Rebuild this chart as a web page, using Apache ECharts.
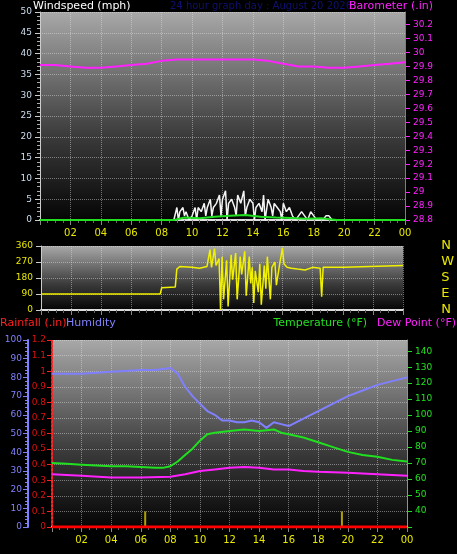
<!DOCTYPE html>
<html><head><meta charset="utf-8">
<script src="https://cdn.jsdelivr.net/npm/echarts@6/dist/echarts.min.js"></script>
<style>html,body{margin:0;background:#000}#c{width:457px;height:554px}</style>
</head><body><div id="c"></div>
<script>
const titleText = "24 hour graph day : August 20 2026";
const xTickHours = [0,2,4,6,8,10,12,14,16,18,20,22,24];
const baroHours = [0,1,2,3,4,5,6,7,8,9,10,11,12,13,14,15,16,17,18,19,20,21,22,23,24];
const baroValues = [29.91,29.91,29.9,29.89,29.89,29.9,29.91,29.92,29.94,29.95,29.95,29.95,29.95,29.95,29.95,29.94,29.92,29.9,29.9,29.89,29.89,29.9,29.91,29.92,29.93];
const gustHours = [8.8,9.0,9.1,9.2,9.4,9.5,9.6,9.8,10.0,10.2,10.3,10.4,10.6,10.8,10.9,11.0,11.2,11.3,11.4,11.6,11.8,11.9,12.0,12.2,12.3,12.4,12.6,12.8,12.9,13.0,13.2,13.4,13.5,13.6,13.8,14.0,14.1,14.2,14.4,14.6,14.7,14.8,15.0,15.2,15.3,15.4,15.6,15.8,15.9,16.0,16.2,16.4,16.6,16.8,17.0,17.2,17.4,17.6,17.8,18.0,18.2,18.6,18.8,19.0,19.2];
const gustValues = [0,3,0,2,3,1,2,0,1,3,0,3,2,4,1,3,5,1,3,4,6,1,5,7,0,4,5,3,1,6,4,7,1,3,5,4,0,3,4,2,6,0,5,3,1,4,3,2,0,4,2,3,1,0,1,2,1,0,2,1,0,0,1,1,0];
const avgHours = [0,8.8,9.5,10.5,11.5,12.5,13.5,14.5,15.5,16.5,17.5,18.5,19.5,24];
const avgValues = [0,0,0.6,0.4,0.8,1,1.2,0.8,0.6,0.5,0.3,0.4,0,0];
const dirHours = [0,7.9,8.0,8.9,9.0,9.2,10,10.5,11,11.2,11.3,11.5,11.6,11.8,11.9,12.0,12.1,12.3,12.4,12.6,12.7,12.9,13.0,13.2,13.3,13.5,13.6,13.8,13.9,14.0,14.1,14.2,14.4,14.5,14.6,14.8,14.9,15.0,15.2,15.3,15.5,15.6,15.8,16.0,16.1,16.3,16.6,17,17.5,18,18.5,18.6,18.7,20.1,20.2,24];
const dirValues = [90,90,125,130,230,245,240,235,245,340,240,345,250,290,0,300,60,280,20,310,170,320,60,300,200,330,80,300,150,240,40,220,100,260,30,250,120,300,60,240,270,140,250,350,260,240,235,230,225,240,235,75,240,240,250,250];
const humHours = [0,2,4,6,7,8,8.5,9,9.5,10,10.5,11,11.5,12,12.5,13,13.5,14,14.5,15,15.5,16,16.5,17,18,19,20,21,22,23,24];
const humValues = [82,82,83,84,84,85,82,75,70,66,62,60,57,57,56,56,57,56,53,56,55,54,56,58,62,66,70,73,76,78,80];
const tempHours = [0,1,2,3,4,5,6,7,7.5,8,8.5,9,9.5,10,10.5,11,12,13,14,15,15.5,16,17,18,19,20,21,22,23,24];
const tempValues = [70,69.5,69,68.5,68,68,67.5,67,67,68,71,75,79,84,88,89,90,91,90,91,89,88,86,83,80,77,75,74,72,71];
const dewHours = [0,2,4,6,8,9,10,11,12,13,14,15,16,17,18,20,22,24];
const dewValues = [63,62,61,61,61.5,63,65,66,67,67.5,67,66,66,65,64.5,64,63,62];
const rainHours = [0,24];
const rainValues = [0,0];
const rateHours = [6.3,19.6];
const rateValues = [0.1,0.1];
const compassLabels = {0:"N",90:"E",180:"S",270:"W",360:"N"};

const pair=(h,v)=>h.map((x,i)=>[x,v[i]]);
const bg={type:'linear',x:0,y:0,x2:0,y2:1,colorStops:[{offset:0,color:'#a8a8a8'},{offset:0.6,color:'#3a3a3a'},{offset:1,color:'#050505'}]};
const fmtHour=v=>{const h=v%24;return v===0?'':(h<10?'0':'')+h;};
const gl={show:true,lineStyle:{color:'rgba(230,230,230,0.45)',type:'dotted'}};
function xAx(gi,showLabel){return {type:'value',gridIndex:gi,min:0,max:24,interval:2,
 axisLine:{show:true,lineStyle:{color:'#ddd',width:2}},axisTick:{show:true,lineStyle:{color:'#888'}},
 minorTick:{show:true,splitNumber:4,lineStyle:{color:'#666'}},
 axisLabel:{show:showLabel,color:'#e8e800',fontSize:10,formatter:fmtHour},splitLine:gl};}
const chart=echarts.init(document.getElementById('c'));
const F='11px DejaVu Sans';
chart.setOption({
 backgroundColor:'#000',animation:false,
 textStyle:{fontFamily:'DejaVu Sans'},
 grid:[
  {left:40,right:52,top:12,height:208,show:true,backgroundColor:bg,borderWidth:0},
  {left:41,right:52,top:246,height:64,show:true,backgroundColor:bg,borderWidth:0},
  {left:52,right:50,top:340,height:187,show:true,backgroundColor:bg,borderWidth:0}],
 graphic:[
  {type:'text',left:33,top:1,style:{text:'Windspeed (mph)',fill:'#fff',font:F}},
  {type:'text',left:170,top:1,style:{text:titleText,fill:'#101070',font:'10px DejaVu Sans'}},
  {type:'text',right:24,top:1,style:{text:'Barometer (.in)',fill:'#ff22ff',font:F}},
  {type:'text',left:0,top:318,style:{text:'Rainfall (.in)',fill:'#ff2020',font:F}},
  {type:'text',left:66,top:318,style:{text:'Humidity',fill:'#8080ff',font:F}},
  {type:'text',right:90,top:318,style:{text:'Temperature (°F)',fill:'#20e020',font:F}},
  {type:'text',right:1,top:318,style:{text:'Dew Point (°F)',fill:'#ff22ff',font:F}}],
 xAxis:[xAx(0,true),xAx(1,false),xAx(2,true)],
 yAxis:[
  {type:'value',gridIndex:0,min:0,max:50,interval:5,axisLine:{show:true,lineStyle:{color:'#ccc'}},axisTick:{show:true},minorTick:{show:true,splitNumber:5,lineStyle:{color:'#aaa'}},axisLabel:{color:'#cde',fontSize:9},splitLine:gl},
  {type:'value',gridIndex:0,position:'right',min:28.8,max:30.29,interval:0.1,axisLine:{show:true,lineStyle:{color:'#ff22ff'}},axisTick:{show:true},axisLabel:{color:'#ff22ff',fontSize:9,showMaxLabel:false,formatter:v=>String(+v.toFixed(1))},splitLine:{show:false}},
  {type:'value',gridIndex:1,min:0,max:360,interval:90,axisLine:{show:true,lineStyle:{color:'#ccc'}},axisTick:{show:true},axisLabel:{color:'#e8e800',fontSize:9},splitLine:gl},
  {type:'value',gridIndex:1,position:'right',min:0,max:360,interval:45,offset:30,axisLine:{show:false},axisTick:{show:false},axisLabel:{color:'#e8e800',fontSize:13,formatter:v=>compassLabels[v]||''},splitLine:{show:false}},
  {type:'value',gridIndex:2,position:'left',min:0,max:1.2,interval:0.1,axisLine:{show:true,lineStyle:{color:'#ff2020',type:'dotted',width:2}},axisTick:{show:true,lineStyle:{color:'#ff2020'}},axisLabel:{color:'#e01010',fontSize:9,margin:6,formatter:v=>String(+v.toFixed(1))},splitLine:gl},
  {type:'value',gridIndex:2,position:'left',min:0,max:100,interval:10,offset:24,axisLine:{show:true,lineStyle:{color:'#8080ff',width:2}},axisTick:{show:true,lineStyle:{color:'#8080ff'}},minorTick:{show:true,splitNumber:5,lineStyle:{color:'#8080ff'}},axisLabel:{color:'#8080ff',fontSize:9,margin:6},splitLine:{show:false}},
  {type:'value',gridIndex:2,position:'right',min:30,max:147,interval:10,axisLine:{show:true,lineStyle:{color:'#20e020'}},axisTick:{show:true},axisLabel:{color:'#20e020',fontSize:9,showMaxLabel:false,formatter:v=>v===30?'':v},splitLine:{show:false}}],
 series:[
  {type:'line',xAxisIndex:0,yAxisIndex:1,data:pair(baroHours,baroValues),symbol:'none',lineStyle:{color:'#ff22ff',width:2}},
  {type:'line',xAxisIndex:0,yAxisIndex:0,data:pair(gustHours,gustValues),symbol:'none',lineStyle:{color:'#f4f4f4',width:1.5}},
  {type:'line',xAxisIndex:0,yAxisIndex:0,data:pair(avgHours,avgValues),symbol:'none',lineStyle:{color:'#20e020',width:2}},
  {type:'line',xAxisIndex:1,yAxisIndex:2,data:pair(dirHours,dirValues),symbol:'none',lineStyle:{color:'#f0f000',width:1.5}},
  {type:'line',xAxisIndex:2,yAxisIndex:5,data:pair(humHours,humValues),symbol:'none',lineStyle:{color:'#8080ff',width:2}},
  {type:'line',xAxisIndex:2,yAxisIndex:6,data:pair(tempHours,tempValues),symbol:'none',lineStyle:{color:'#20e020',width:2}},
  {type:'line',xAxisIndex:2,yAxisIndex:6,data:pair(dewHours,dewValues),symbol:'none',lineStyle:{color:'#ff22ff',width:2}},
  {type:'bar',xAxisIndex:2,yAxisIndex:4,data:pair(rateHours,rateValues),barWidth:2,itemStyle:{color:'#b0a000'}},
  {type:'line',xAxisIndex:2,yAxisIndex:4,data:pair(rainHours,rainValues),symbol:'none',lineStyle:{color:'#ff0000',width:3}}]
});
</script></body></html>
